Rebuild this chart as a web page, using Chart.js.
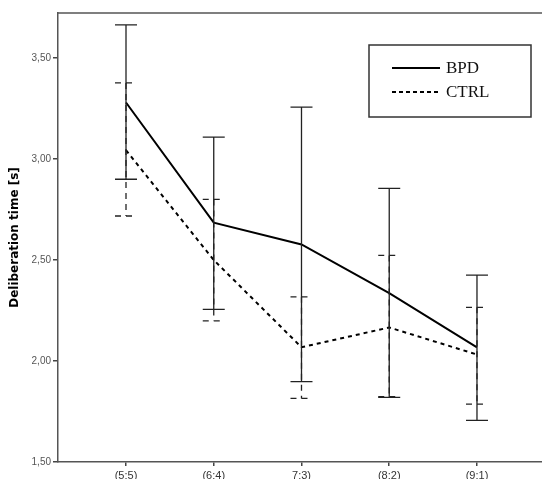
<!DOCTYPE html>
<html>
<head>
<meta charset="utf-8">
<script src="https://cdn.jsdelivr.net/npm/chart.js@4.4.1/dist/chart.umd.min.js"></script>
<style>
  html, body { margin: 0; padding: 0; background: #fff; }
  #wrap { width: 542px; height: 479px; }
</style>
</head>
<body>
<div id="wrap"><canvas id="chart" width="542" height="479"></canvas></div>
<script>
// categories and values
const categories = ['(5:5)', '(6:4)', '7:3)', '(8:2)', '(9:1)'];
const yTicks = [1.5, 2.0, 2.5, 3.0, 3.5];

const bpdMean = [3.28, 2.685, 2.577, 2.336, 2.068];
const bpdHigh = [3.664, 3.108, 3.257, 2.855, 2.425];
const bpdLow = [2.90, 2.256, 1.898, 1.820, 1.706];

const ctrlMean = [3.044, 2.50, 2.068, 2.166, 2.032];
const ctrlHigh = [3.377, 2.80, 2.318, 2.523, 2.266];
const ctrlLow = [2.718, 2.199, 1.815, 1.823, 1.787];

const toPoints = arr => arr.map((v, i) => ({ x: i, y: v }));

// error bars drawn through the chart's own scales
const errorBars = {
    id: 'errorBars',
    afterDatasetsDraw(chart) {
        const ctx = chart.ctx;
        const xs = chart.scales.x;
        const ys = chart.scales.y;
        const sets = [
            { lo: ctrlLow, hi: ctrlHigh, dash: [6, 5] },
            { lo: bpdLow, hi: bpdHigh, dash: [] }
        ];
        ctx.save();
        ctx.strokeStyle = '#222';
        ctx.lineWidth = 1.3;
        sets.forEach(s => {
            ctx.setLineDash(s.dash);
            s.lo.forEach((lo, i) => {
                const x = xs.getPixelForValue(i);
                const yl = ys.getPixelForValue(lo);
                const yh = ys.getPixelForValue(s.hi[i]);
                ctx.beginPath();
                ctx.moveTo(x, yh);
                ctx.lineTo(x, yl);
                ctx.moveTo(x - 11, yh);
                ctx.lineTo(x + 11, yh);
                ctx.moveTo(x - 11, yl);
                ctx.lineTo(x + 11, yl);
                ctx.stroke();
            });
        });
        ctx.restore();
    }
};

// frame top line and boxed legend
const frameAndLegend = {
    id: 'frameAndLegend',
    afterDraw(chart) {
        const ctx = chart.ctx;
        const a = chart.chartArea;
        ctx.save();
        ctx.strokeStyle = '#555';
        ctx.lineWidth = 1.5;
        ctx.beginPath();
        ctx.moveTo(a.left, a.top);
        ctx.lineTo(a.right, a.top);
        ctx.stroke();

        const bx = a.right - 173, by = a.top + 32, bw = 162, bh = 72;
        ctx.strokeStyle = '#333';
        ctx.lineWidth = 1.5;
        ctx.strokeRect(bx, by, bw, bh);

        const items = [
            { text: 'BPD', dash: [] },
            { text: 'CTRL', dash: [4, 3] }
        ];
        ctx.font = '17px "Liberation Serif", "Times New Roman", serif';
        ctx.fillStyle = '#111';
        ctx.textBaseline = 'middle';
        items.forEach((it, k) => {
            const y = by + 23 + k * 24;
            ctx.setLineDash(it.dash);
            ctx.strokeStyle = '#000';
            ctx.lineWidth = 2;
            ctx.beginPath();
            ctx.moveTo(bx + 23, y);
            ctx.lineTo(bx + 71, y);
            ctx.stroke();
            ctx.setLineDash([]);
            ctx.fillText(it.text, bx + 77, y + 1);
        });
        ctx.restore();
    }
};

new Chart(document.getElementById('chart'), {
    type: 'line',
    data: {
        datasets: [
            {
                label: 'BPD',
                data: toPoints(bpdMean),
                borderColor: '#000',
                borderWidth: 2,
                pointRadius: 0,
                tension: 0
            },
            {
                label: 'CTRL',
                data: toPoints(ctrlMean),
                borderColor: '#000',
                borderWidth: 2,
                borderDash: [4, 4],
                pointRadius: 0,
                tension: 0
            }
        ]
    },
    options: {
        responsive: false,
        animation: false,
        events: [],
        layout: { padding: { top: 13, right: 0, bottom: 0, left: 0 } },
        plugins: {
            legend: { display: false },
            tooltip: { enabled: false }
        },
        scales: {
            x: {
                type: 'linear',
                min: -0.775,
                max: 4.741,
                afterBuildTicks: s => { s.ticks = categories.map((c, i) => ({ value: i })); },
                afterFit: s => { s.height = 17; },
                grid: {
                    drawOnChartArea: false,
                    drawTicks: true,
                    tickLength: 4,
                    color: '#444',
                    lineWidth: 1.5
                },
                border: { color: '#555', width: 1.5 },
                ticks: {
                    autoSkip: false,
                    maxRotation: 0,
                    padding: 3,
                    color: '#333',
                    font: { family: '"Liberation Sans", Arial, sans-serif', size: 11 },
                    callback: v => categories[v]
                }
            },
            y: {
                min: 1.5,
                max: 3.723,
                afterBuildTicks: s => { s.ticks = yTicks.map(v => ({ value: v })); },
                afterFit: s => { s.width = 58; },
                grid: {
                    drawOnChartArea: false,
                    drawTicks: true,
                    tickLength: 5,
                    color: '#444',
                    lineWidth: 1.5
                },
                border: { color: '#555', width: 1.5 },
                ticks: {
                    padding: 2,
                    color: '#555',
                    font: { family: '"Liberation Sans", Arial, sans-serif', size: 10 },
                    callback: v => v.toFixed(2).replace('.', ',')
                },
                title: {
                    display: true,
                    text: 'Deliberation time [s]',
                    color: '#000',
                    font: { family: '"DejaVu Sans", Verdana, sans-serif', size: 12, weight: 'bold' },
                    padding: { top: 8, bottom: 0 }
                }
            }
        }
    },
    plugins: [errorBars, frameAndLegend]
});
</script>
</body>
</html>
